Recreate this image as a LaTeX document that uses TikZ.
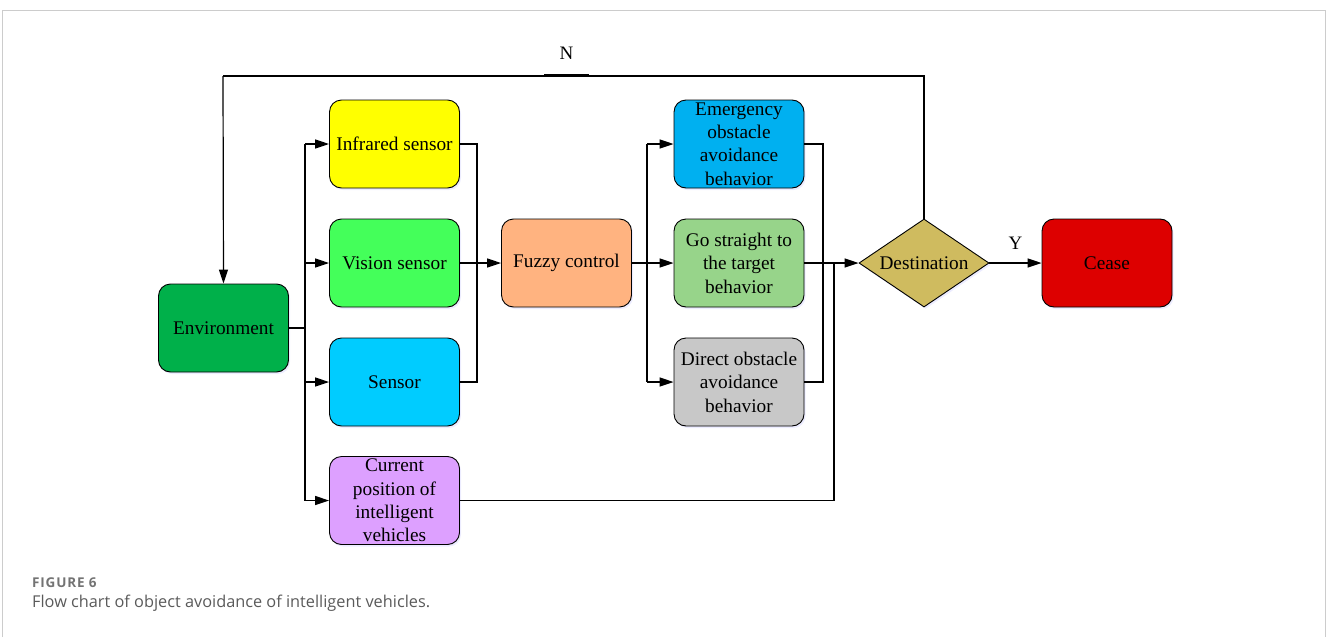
\documentclass[tikz,border=0pt]{standalone}
\usepackage{fontspec}
\setmainfont{Liberation Serif}
\newfontfamily\capfont{Open Sans}
\newfontfamily\figfont[LetterSpace=6]{Open Sans}
\usetikzlibrary{arrows.meta,shapes.geometric,shadows}
\definecolor{cEnv}{HTML}{00B04A}
\definecolor{cInf}{HTML}{FFFF00}
\definecolor{cVis}{HTML}{44FF5A}
\definecolor{cSen}{HTML}{00CCFF}
\definecolor{cCur}{HTML}{DDA0FF}
\definecolor{cFuz}{HTML}{FFB380}
\definecolor{cEme}{HTML}{00B0F0}
\definecolor{cGo}{HTML}{97D48A}
\definecolor{cDir}{HTML}{C8C8C8}
\definecolor{cDes}{HTML}{CFBB5F}
\definecolor{cCea}{HTML}{DD0000}
\definecolor{cFrame}{HTML}{CCCCCC}
\definecolor{cCap}{HTML}{5A5A5A}
\tikzset{
  box/.style={draw=black, line width=0.9pt, rounded corners=12pt, minimum width=130pt, minimum height=88pt,
    inner sep=0pt, align=center, font=\fontsize{19.3}{23.4}\selectfont,
    drop shadow={shadow xshift=1.5pt, shadow yshift=-2pt, fill=blue!12, opacity=0.6}},
  dest/.style={draw=black, line width=0.9pt, shape=diamond, aspect=1.477, minimum width=130pt, minimum height=88pt,
    inner sep=0pt, align=center, font=\fontsize{19.3}{23.4}\selectfont, fill=cDes,
    drop shadow={shadow xshift=1.5pt, shadow yshift=-2pt, fill=blue!12, opacity=0.6}},
  conn/.style={line width=1.2pt, draw=black},
  arr/.style={conn, -{Triangle[length=14pt,width=9pt]}},
  lbl/.style={font=\fontsize{19}{22}\selectfont}
}
\begin{document}
\begin{tikzpicture}[x=1pt,y=-1pt]
\useasboundingbox (0,0) rectangle (1327,637);
% frame
\draw[cFrame, line width=1pt] (2,637) -- (2,10) -- (1325,10) -- (1325,637);
% nodes
\node[box, fill=cEnv] (env) at (223.5,328) {Environment};
\node[box, fill=cInf] (inf) at (394.5,144) {Infrared sensor};
\node[box, fill=cVis] (vis) at (394.5,263) {Vision sensor};
\node[box, fill=cSen] (sen) at (394.5,382) {Sensor};
\node[box, fill=cCur] (cur) at (394.5,500.5) {Current\\position of\\intelligent\\vehicles};
\node[box, fill=cFuz] (fuz) at (566.5,263) {Fuzzy control};
\node[box, fill=cEme] (eme) at (739,144) {Emergency\\obstacle\\avoidance\\behavior};
\node[box, fill=cGo] (go) at (739,263) {Go straight to\\the target\\behavior};
\node[box, fill=cDir] (dir) at (739,382) {Direct obstacle\\avoidance\\behavior};
\node[dest] (des) at (924,263) {Destination};
\node[box, fill=cCea] (cea) at (1107,263) {Cease};
% coordinates
\coordinate (b1) at (305,328);
\coordinate (b2) at (477,263);
\coordinate (b3) at (647,263);
\coordinate (b4) at (823,263);
\coordinate (b5) at (834,263);
\coordinate (tl) at (223,76);
\coordinate (tr) at (924,76);
% env to sensors
\draw[conn] (env.east) -- (b1);
\draw[conn] (b1 |- inf.west) -- (b1 |- cur.west);
\draw[arr] (b1 |- inf.west) -- (inf.west);
\draw[arr] (b1 |- vis.west) -- (vis.west);
\draw[arr] (b1 |- sen.west) -- (sen.west);
\draw[arr] (b1 |- cur.west) -- (cur.west);
% sensors to fuzzy
\draw[conn] (inf.east) -- (b2 |- inf.east) -- (b2 |- sen.east) -- (sen.east);
\draw[arr] (vis.east) -- (fuz.west);
% fuzzy to behaviors
\draw[conn] (fuz.east) -- (b3);
\draw[conn] (b3 |- eme.west) -- (b3 |- dir.west);
\draw[arr] (b3 |- eme.west) -- (eme.west);
\draw[arr] (b3 |- go.west) -- (go.west);
\draw[arr] (b3 |- dir.west) -- (dir.west);
% behaviors to destination
\draw[conn] (eme.east) -- (b4 |- eme.east) -- (b4 |- dir.east) -- (dir.east);
\draw[arr] (go.east) -- (des.west);
\draw[conn] (cur.east) -- (b5 |- cur.east) -- (b5);
% decision
\draw[arr] (des.east) -- node[lbl, above=10pt] {Y} (cea.west);
\draw[conn] (des.north) -- (tr) -- (tl);
\draw[arr] (tl) -- (env.north);
\draw[line width=3pt] (544,75.5) -- (589,75.5);
\node[lbl] (nlab) at (566.5,53) {N};
% caption
\node[anchor=base west, inner sep=0pt, text=cCap!85, font=\figfont\bfseries\fontsize{13.5}{15}\selectfont] (fig) at (32,587) {FIGURE 6};
\node[anchor=base west, inner sep=0pt, text=cCap, font=\capfont\fontsize{16.3}{19}\selectfont] (cap) at (32,607) {Flow chart of object avoidance of intelligent vehicles.};
\end{tikzpicture}
\end{document}
